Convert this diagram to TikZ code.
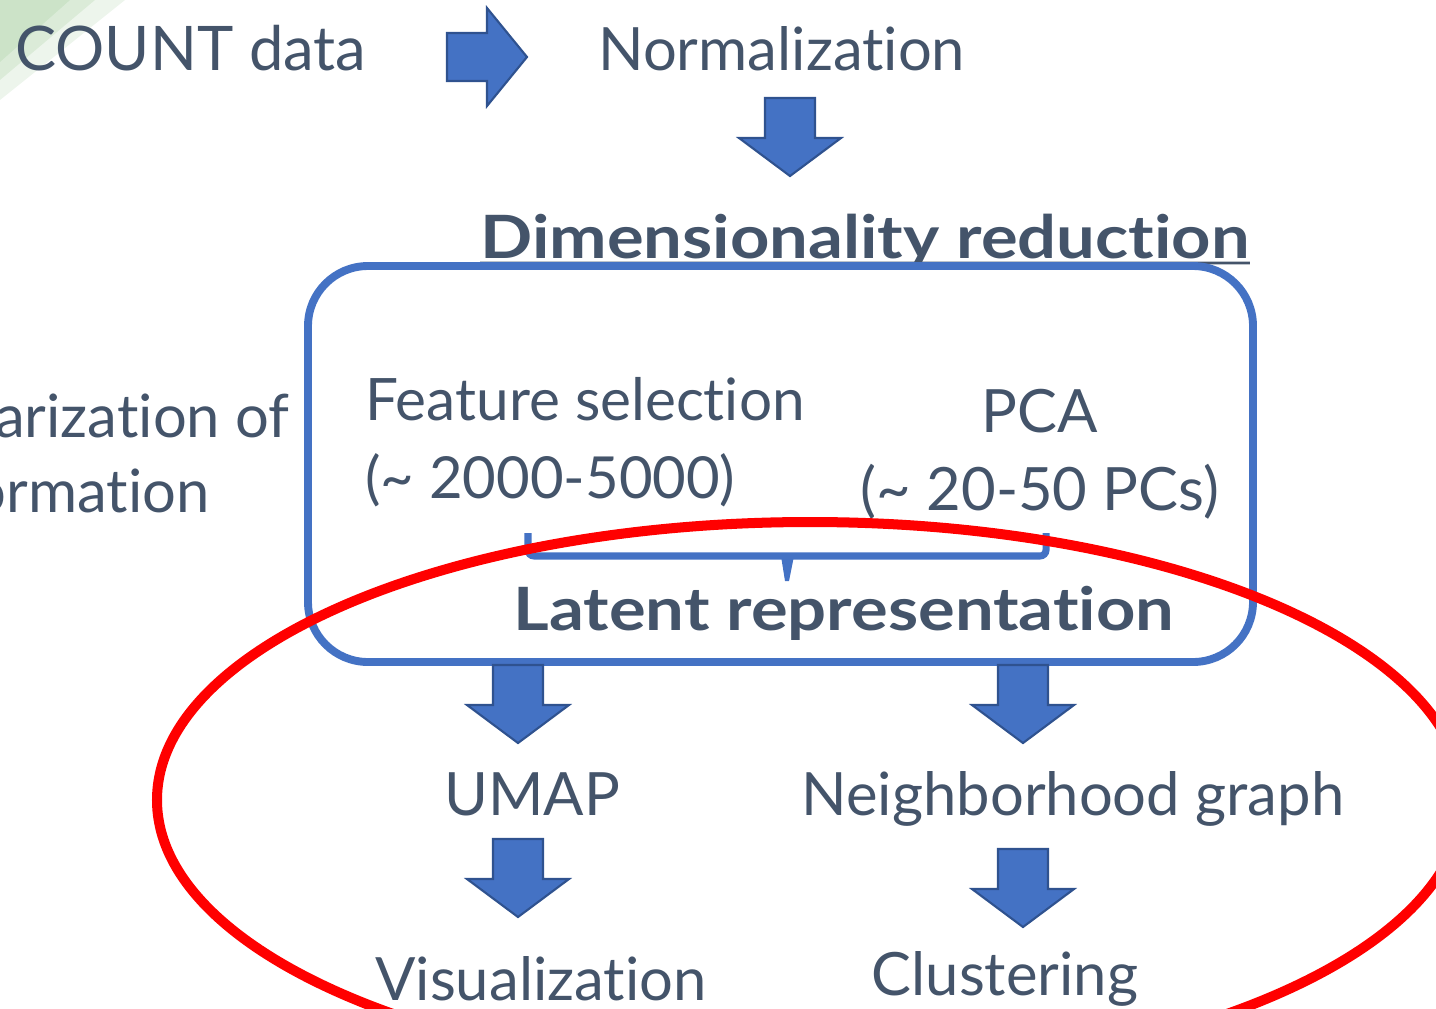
\documentclass[tikz,border=0pt]{standalone}
\usepackage{fontspec}
\setmainfont{Lato}[Ligatures={NoCommon,NoRare}]
\newfontfamily\widebold{Lato}[Ligatures={NoCommon,NoRare},FakeStretch=1.15,BoldFont={Lato Bold}]
\definecolor{txt}{HTML}{44546A}
\definecolor{blk}{HTML}{4472C4}
\definecolor{blkedge}{HTML}{2F528F}
\definecolor{ringred}{HTML}{FF0000}
\definecolor{deco}{HTML}{B9D9B4}
\begin{document}
\begin{tikzpicture}[x=0.02cm,y=-0.02cm,
  lbl/.style={text=txt,inner sep=0pt,font=\fontsize{34}{40}\selectfont},
  boldlbl/.style={lbl,font=\fontsize{34}{40}\selectfont\widebold\bfseries},
  blkarrow/.style={fill=blk,draw=blkedge,line width=1.2pt,line join=miter},
  downblk/.pic={\path[blkarrow] (-25,0) -- (25,0) -- (25,40) -- (51,40) -- (0,78) -- (-51,40) -- (-25,40) -- cycle;},
  rightblk/.pic={\path[blkarrow] (0,-24) -- (40,-24) -- (40,-49) -- (80,0) -- (40,49) -- (40,24) -- (0,24) -- cycle;}
]
\useasboundingbox (0,0) rectangle (1436,1008);
\clip (0,0) rectangle (1436,1008);
% decoration top-left
\fill[deco,opacity=0.25] (0,0) -- (125,0) -- (0,100) -- cycle;
\fill[deco,opacity=0.35] (0,0) -- (95,0) -- (0,80) -- cycle;
\fill[deco,opacity=0.45] (0,0) -- (70,0) -- (0,62) -- cycle;
% texts
\node[lbl,anchor=base west,font=\fontsize{35}{40}\selectfont] (count) at (15,70) {COUNT data};
\node[lbl,anchor=base west] (norm) at (598,70) {Normalization};
\node[boldlbl,anchor=base west] (dimred) at (480,258) {Dimensionality reduction};
\draw[txt,line width=1.6pt] (dimred.base west) ++(0,5) -- ([yshift=-0.1cm]dimred.base east);
\node[lbl,anchor=base east] (sumof) at (290,437) {arization of};
\node[lbl,anchor=base east] (info) at (210,512) {ormation};
\node[lbl,anchor=base west,font=\fontsize{33.3}{40}\selectfont] (featsel) at (365,420) {Feature selection};
\node[lbl,anchor=base west,font=\fontsize{33}{40}\selectfont] (featnum) at (365,498) {(\char`\~{} 2000-5000)};
\node[lbl,anchor=base] (pca) at (1040,432) {PCA};
\node[lbl,anchor=base] (pcanum) at (1040,510) {(\char`\~{} 20-50 PCs)};
\node[boldlbl,anchor=base] (latent) at (844,630) {Latent representation};
\node[lbl,anchor=base] (umap) at (532,815) {UMAP};
\node[lbl,anchor=base] (ngraph) at (1073,815) {Neighborhood graph};
\node[lbl,anchor=base] (vis) at (541,1000) {Visualization};
\node[lbl,anchor=base] (clust) at (1005,995) {Clustering};
% box
\draw[blk,line width=4.5pt,rounded corners=1.2cm] (308,266) rectangle (1253,662);
% brace
\draw[blk,line width=4pt,rounded corners=0.12cm] (528,533) |- (1046,556) -- (1046,533);
\fill[blk] (781,556) -- (794,556) -- (789,581) -- (785,581) -- cycle;
% block arrows
\pic at (447,57) {rightblk};
\pic at (790,98) {downblk};
\pic at (518,665) {downblk};
\pic at (1023,665) {downblk};
\pic at (518,839) {downblk};
\pic at (1023,849) {downblk};
% red ellipse
\draw[ringred,line width=5.7pt] (810,800) ellipse [x radius=653, y radius=278];
\end{tikzpicture}
\end{document}
